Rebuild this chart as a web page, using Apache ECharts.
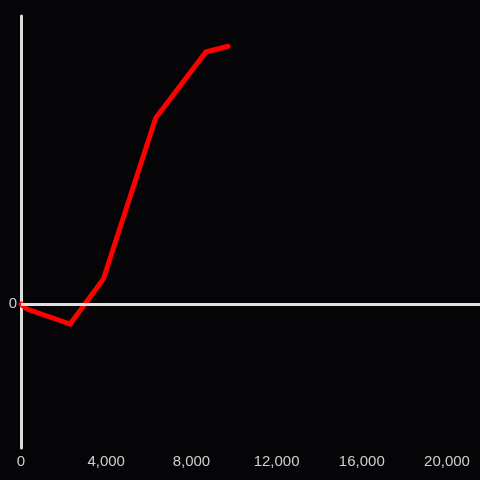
<!DOCTYPE html>
<html>
<head>
<meta charset="utf-8">
<script src="https://cdn.jsdelivr.net/npm/echarts@6/dist/echarts.min.js"></script>
<style>
  html, body {margin: 0; padding: 0; background: #050407;}
  #chart {width: 480px; height: 480px;}
</style>
</head>
<body>
<div id="chart"></div>
<script>
// values
const xValues = [0, 280, 2310, 3870, 6320, 8680, 9720]
const yValues = [0, -0.035, -0.139, 0.174, 1.29, 1.75, 1.79]
const xTickStep = 4000
const yTickLabels = [0]

const myChart = echarts.init(document.getElementById('chart'))
myChart.setOption({
  backgroundColor: '#050407',
  animation: false,
  grid: {left: 21, right: 0, top: 16, bottom: 32, containLabel: false},
  xAxis: {
    type: 'value',
    min: 0,
    max: 21550,
    interval: xTickStep,
    axisLine: {show: false},
    axisTick: {show: false},
    splitLine: {show: false},
    axisLabel: {
      color: '#cfcfcf',
      fontSize: 15,
      fontFamily: 'Liberation Sans',
      margin: 6,
      showMaxLabel: false,
      formatter(val) {
        return val.toLocaleString('en-US')
      }
    }
  },
  yAxis: {
    type: 'value',
    min: -1,
    max: 2,
    interval: 1,
    axisLine: {show: true, onZero: false, lineStyle: {color: '#dcdcdc', width: 3}},
    axisTick: {show: false},
    splitLine: {show: false},
    axisLabel: {
      color: '#cfcfcf',
      fontSize: 15,
      fontFamily: 'Liberation Sans',
      margin: 4,
      formatter(val) {
        return yTickLabels.includes(val) ? String(val) : ''
      }
    }
  },
  series: [{
    type: 'line',
    data: xValues.map((x, i) => [x, yValues[i]]),
    symbol: 'none',
    lineStyle: {color: '#ff0000', width: 5, cap: 'round', join: 'miter'},
    markLine: {
      silent: true,
      symbol: 'none',
      label: {show: false},
      lineStyle: {color: '#e0e0e0', width: 3, type: 'solid'},
      data: [{yAxis: 0}]
    },
    z: 3
  }]
})
</script>
</body>
</html>
